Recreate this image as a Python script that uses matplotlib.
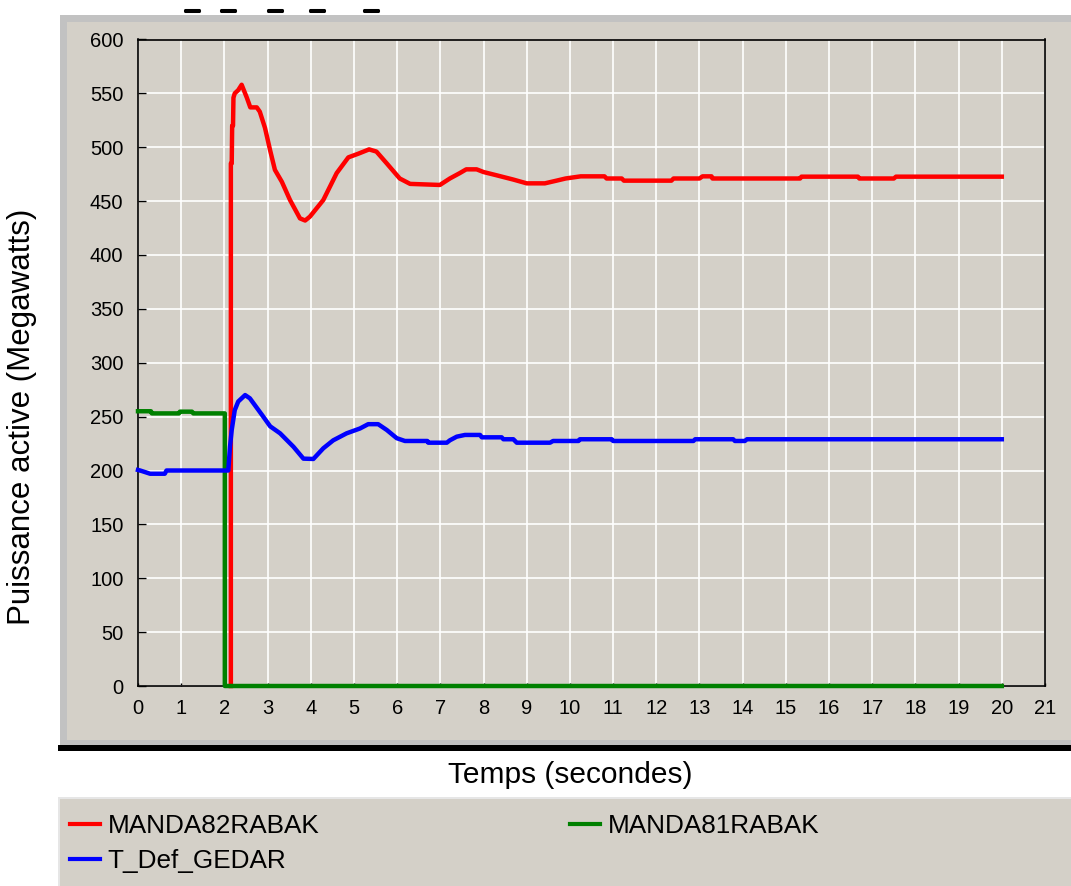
import matplotlib
matplotlib.use('Agg')
import matplotlib.pyplot as plt
from matplotlib.patches import Rectangle
import matplotlib.patheffects as pe

plt.rcParams['font.family'] = ['Liberation Sans', 'DejaVu Sans']

# ---------------- data ----------------
t_red = [2.15, 2.15, 2.17, 2.18, 2.20, 2.21, 2.24, 2.32, 2.40, 2.46, 2.52, 2.60, 2.75, 2.82, 2.94,
         3.06, 3.17, 3.33, 3.52, 3.75, 3.87, 3.98, 4.29, 4.60, 4.87, 5.10, 5.35, 5.52, 5.76, 6.06,
         6.30, 6.99, 7.22, 7.45, 7.60, 7.84, 8.00, 8.30, 8.69, 9.00, 9.42, 9.69, 9.90, 10.25, 10.80,
         10.85, 11.20, 11.25, 12.35, 12.40, 13.00, 13.07, 13.28, 13.30, 15.33, 15.36, 16.67, 16.70,
         17.50, 17.55, 20.0]
v_red = [0, 485, 485, 520, 520, 546, 550, 553, 558, 552, 546, 537, 537, 533, 518,
         497, 479, 468, 451, 434, 432, 435.6, 451, 476, 490.6, 494, 498, 496, 485, 471,
         466, 465, 471, 476, 479.5, 479.5, 477, 474, 470, 466.5, 466.5, 469, 471, 473, 473,
         471, 471, 469, 469, 471, 471, 473, 473, 471, 471, 472.7, 472.7, 471,
         471, 472.7, 472.7]

t_green = [0, 0.05, 0.30, 0.32, 0.95, 0.97, 1.25, 1.28, 2.01, 2.01, 20.0]
v_green = [255, 255, 255, 253, 253, 254.6, 254.6, 253, 253, 0, 0]

t_blue = [0, 0.05, 0.28, 0.62, 0.66, 2.09, 2.13, 2.17, 2.24, 2.32, 2.48, 2.59, 2.90, 3.06, 3.29,
          3.60, 3.83, 4.06, 4.29, 4.52, 4.83, 5.14, 5.33, 5.56, 5.76, 5.99, 6.18, 6.70, 6.72,
          7.15, 7.22, 7.38, 7.57, 7.92, 7.96, 8.42, 8.46, 8.69, 8.77, 9.54, 9.61, 10.20, 10.23,
          10.97, 11.00, 12.86, 12.90, 13.78, 13.82, 14.05, 14.10, 20.0]
v_blue = [200.5, 200, 197, 197, 200, 200, 222, 237.6, 256, 264, 270, 267, 250, 241, 234.5,
          222, 211, 210.7, 220.6, 228, 234.5, 239, 243, 243, 237.6, 230, 227.4, 227.4, 225.8,
          225.8, 228, 231.4, 233, 233, 230.8, 230.8, 229, 229, 225.8, 225.8, 227.4, 227.4, 229,
          229, 227.4, 227.4, 229, 229, 227.4, 227.4, 229, 229]

series_names = ['MANDA82RABAK', 'MANDA81RABAK', 'T_Def_GEDAR']
series_colors = ['#FF0000', '#008000', '#0000FF']
x_ticks = list(range(0, 22))
y_ticks = list(range(0, 601, 50))
x_label = 'Temps (secondes)'
y_label = 'Puissance active (Megawatts)'
title_fragments = ['__', '__', '__', '__', '__']

# ---------------- figure ----------------
W, H = 1071, 886
fig = plt.figure(figsize=(W / 100, H / 100), dpi=100)
fig.patch.set_facecolor('white')


def fx(x):
    return x / W


def fy(y):
    return 1 - y / H


def rect(x0, y0, x1, y1, color, z=-5):
    fig.patches.append(Rectangle((fx(x0), fy(y1)), fx(x1) - fx(x0), fy(y0) - fy(y1),
                                 transform=fig.transFigure, facecolor=color,
                                 edgecolor='none', zorder=z))


PANEL = '#D4D0C8'
# chart panel
rect(60, 15, 1071, 745, '#C2C2C2')
rect(67, 22, 1071, 740, PANEL)
rect(58, 745, 1071, 751, '#000000')
# legend panel
rect(58, 797, 1071, 886, '#E6E6E6')
rect(60, 799, 1071, 886, PANEL)

# truncated title (only underscores visible in the reference)
for xu, frag in zip([192, 228, 275, 317, 371], title_fragments):
    fig.text(fx(xu), 1.0, frag, fontsize=9, fontweight='bold', ha='center',
             va='top', color='black',
             path_effects=[pe.withStroke(linewidth=2.2, foreground='black')])

ax = fig.add_axes([fx(138), fy(686), fx(1045) - fx(138), fy(39.5) - fy(686)])
ax.set_zorder(1)
ax.set_facecolor(PANEL)
ax.set_xlim(0, 21)
ax.set_ylim(0, 600)
ax.set_xticks(x_ticks)
ax.set_yticks(y_ticks)
ax.grid(True, color='white', linewidth=1.2)
ax.set_axisbelow(True)
for s in ax.spines.values():
    s.set_color('black')
    s.set_linewidth(1.2)
ax.tick_params(axis='x', direction='in', length=2.5, width=1.0, labelsize=14.5, pad=9.5)
ax.tick_params(axis='y', direction='in', length=5.5, width=1.0, labelsize=14.5, pad=10.5)

l_red, = ax.plot(t_red, v_red, color=series_colors[0], lw=3.2, clip_on=False, zorder=3)
l_green, = ax.plot(t_green, v_green, color=series_colors[1], lw=3.2, clip_on=False, zorder=4)
l_blue, = ax.plot(t_blue, v_blue, color=series_colors[2], lw=3.2, clip_on=False, zorder=5)

ax.set_xlabel(x_label, fontsize=21.5, va='center')
ax.xaxis.set_label_coords((570 - 138) / 907, (686 - 775) / 646.5)
ax.set_ylabel(y_label, fontsize=22.5, va='center')
ax.yaxis.set_label_coords((22 - 138) / 907, (686 - 417) / 646.5)

leg = fig.legend([l_red, l_blue, l_green], [series_names[0], series_names[2], series_names[1]],
                 ncol=2, loc='upper left', mode='expand',
                 bbox_to_anchor=(fx(62), fy(886), fx(827) - fx(62), fy(806) - fy(886)),
                 bbox_transform=fig.transFigure, frameon=False, fontsize=18.8,
                 handlelength=1.15, handletextpad=0.3, borderpad=0.3, borderaxespad=0,
                 labelspacing=0.43)
for h in leg.legend_handles:
    h.set_linewidth(3.0)

fig.savefig('out.png', dpi=100, facecolor='white')
